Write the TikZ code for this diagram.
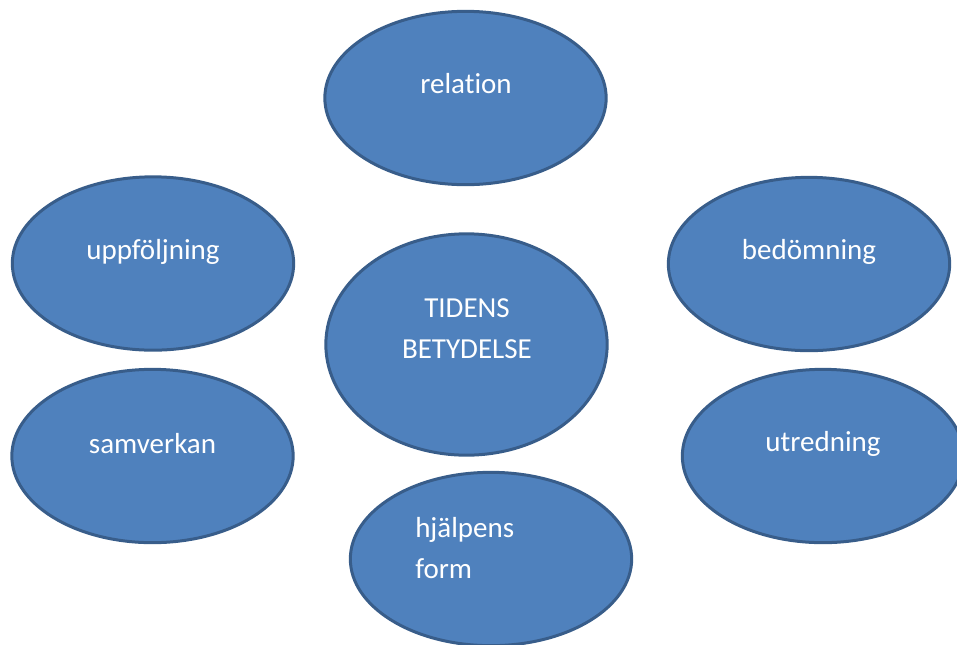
\documentclass[tikz,border=0pt]{standalone}
\usepackage{fontspec}
\setmainfont{Carlito}[Ligatures=NoCommon]
\usetikzlibrary{shapes.geometric}
\definecolor{bubblefill}{HTML}{4F81BD}
\definecolor{bubbleline}{HTML}{385D8A}
\tikzset{
  bubble/.style={ellipse, draw=bubbleline, fill=bubblefill, line width=2.25pt, inner sep=0pt,
    minimum width=211pt, minimum height=#1},
  bubble/.default=130pt,
  btext/.style={text=white, font=\fontsize{21.75pt}{26pt}\selectfont, inner sep=0pt, anchor=base}
}
\begin{document}
\begin{tikzpicture}[x=0.75pt,y=-0.75pt]
\useasboundingbox (0,0) rectangle (957,644);
\clip (0,0) rectangle (957,644);
\node[bubble] (rel) at (465.5,98) {};
\node[bubble] (upp) at (153,263.5) {};
\node[bubble] (bed) at (809,264) {};
\node[bubble=166pt] (tid) at (466.5,344.5) {};
\node[bubble] (sam) at (152.5,456) {};
\node[bubble] (utr) at (823,456) {};
\node[bubble] (hjf) at (491,559) {};
\node[btext] (trel) at (466,93) {relation};
\node[btext] (tupp) at (153,259) {uppföljning};
\node[btext] (tbed) at (809,259) {bedömning};
\node[btext] (ttid1) at (467,317) {TIDENS};
\node[btext] (ttid2) at (467,358) {BETYDELSE};
\node[btext] (tsam) at (152.5,453) {samverkan};
\node[btext] (tutr) at (823,451) {utredning};
\node[btext, anchor=base west] (thj1) at (415,537) {hjälpens};
\node[btext, anchor=base west] (thj2) at (415,578) {form};
\end{tikzpicture}
\end{document}
